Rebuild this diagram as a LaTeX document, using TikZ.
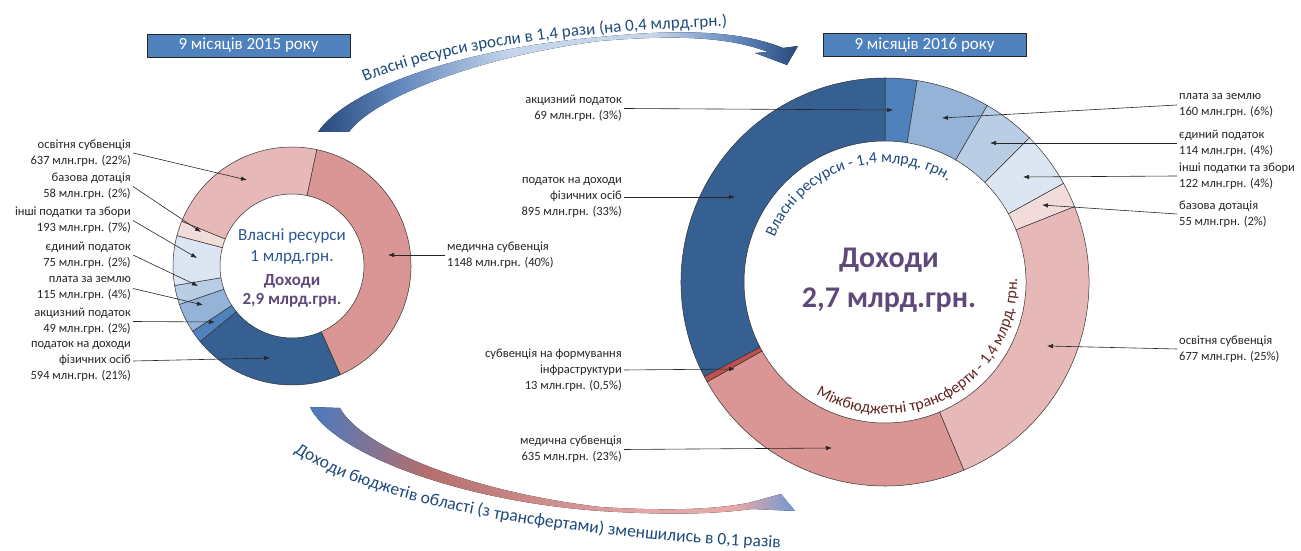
\documentclass[tikz,border=0pt]{standalone}
\usepackage{fontspec}
\setmainfont{Carlito}
\usetikzlibrary{arrows.meta,decorations.text}

\definecolor{hdrblue}{HTML}{4F81BD}
\definecolor{medsub}{HTML}{D99694}
\definecolor{osvsub}{HTML}{E6B9B8}
\definecolor{bazdot}{HTML}{F2DCDB}
\definecolor{inshi}{HTML}{DCE6F2}
\definecolor{yedyn}{HTML}{B9CDE5}
\definecolor{plata}{HTML}{95B3D7}
\definecolor{akcyz}{HTML}{4F81BD}
\definecolor{pdfo}{HTML}{376092}
\definecolor{infra}{HTML}{C0504D}
\definecolor{ownblue}{HTML}{1F497D}
\definecolor{ownblue2}{HTML}{2A5890}
\definecolor{incpurple}{HTML}{5F497A}
\definecolor{trred}{HTML}{632523}
\definecolor{updark}{HTML}{284A7C}
\definecolor{upmid}{HTML}{5E84BA}
\definecolor{uplight}{HTML}{C4D5EC}
\definecolor{lowblue}{HTML}{4A7AC0}
\definecolor{lowmauve}{HTML}{B46E6E}
\definecolor{lowpink}{HTML}{E4A8A7}
\definecolor{lowend}{HTML}{7098D4}
\pgfdeclarehorizontalshading{uparrow}{100bp}{color(0bp)=(updark); color(25bp)=(updark); color(33bp)=(upmid); color(45bp)=(uplight); color(60bp)=(uplight); color(69bp)=(upmid); color(75bp)=(updark); color(100bp)=(updark)}
\pgfdeclarehorizontalshading{lowarrow}{100bp}{color(0bp)=(lowblue); color(25bp)=(lowblue); color(37bp)=(lowmauve); color(60bp)=(lowpink); color(69bp)=(lowpink); color(75bp)=(lowend); color(100bp)=(lowend)}

\begin{document}
\begin{tikzpicture}[x=1pt, y=1pt,
	seg/.style={draw=black!80, line width=0.5pt},
	lblL/.style={anchor=east, align=right, inner sep=2pt, text=black!85, font=\fontsize{12.5}{16}\selectfont},
	lblR/.style={anchor=west, align=left, inner sep=2pt, text=black!85, font=\fontsize{12.5}{16}\selectfont},
	leader/.style={black!85, line width=0.6pt, -{Latex[length=6pt,width=4.5pt]}},
	hdr/.style={draw=black!85, line width=0.8pt, fill=hdrblue, text=white, minimum width=203pt, minimum height=23pt, inner sep=0pt, font=\fontsize{17}{17}\selectfont}]
	\useasboundingbox (0,0) rectangle (1301,551);

	\draw (248.5,505.5) node [hdr] (hd15) {9 місяців 2015 року};
	\draw (924.5,506) node [hdr] (hd16) {9 місяців 2016 року};

	\coordinate (lc) at (292,285);
	\coordinate (rc) at (885,269);

	\foreach \a/\b/\c in {78/-66.05/medsub, -66.05/-140.58/pdfo, -140.58/-146.73/akcyz, -146.73/-161.16/plata, -161.16/-170.57/yedyn, -170.57/-194.79/inshi, -194.79/-202.07/bazdot, -202.07/-282/osvsub}
		\filldraw[seg, fill=\c, shift={(lc)}] (\a:119) arc[start angle=\a, end angle=\b, radius=119] -- (\b:72) arc[start angle=\b, end angle=\a, radius=72] -- cycle;

	\foreach \a/\b/\c in {90/80.93/akcyz, 80.93/59.91/plata, 59.91/44.93/yedyn, 44.93/28.90/inshi, 28.90/21.68/bazdot, 21.68/-67.27/osvsub, -67.27/-150.70/medsub, -150.70/-152.41/infra, -152.41/-270/pdfo}
		\filldraw[seg, fill=\c, shift={(rc)}] (\a:204) arc[start angle=\a, end angle=\b, radius=204] -- (\b:141) arc[start angle=\b, end angle=\a, radius=141] -- cycle;

	\draw (292,304.5) node [text=ownblue2, align=center, font=\fontsize{17}{21}\selectfont] (own15) {Власні ресурси\\1 млрд.грн.};
	\draw (292,260.5) node [text=incpurple, align=center, font=\bfseries\fontsize{17}{19}\selectfont] (inc15) {Доходи\\2,9 млрд.грн.};
	\draw (889,271) node [text=incpurple, align=center, font=\bfseries\fontsize{30}{40}\selectfont] (inc16) {Доходи\\2,7 млрд.грн.};

	\path[decorate, decoration={text along path, text align=center,
		text={|\fontsize{16}{16}\selectfont\color{ownblue}|Власні ресурси - 1,4 млрд. грн.}}]
		([shift={(172:119)}]rc) arc[start angle=172, end angle=44, radius=119];
	\path[decorate, decoration={text along path, text align=center,
		text={|\fontsize{16}{16}\selectfont\color{trred}|Міжбюджетні трансферти - 1,4 млрд. грн.}}]
		([shift={(-145:132)}]rc) arc[start angle=-145, end angle=25, radius=132];

	% labels of 2015
	\draw (133,398) node [lblL] (l-osv) {освітня субвенція\\637 млн.грн. (22\%)};
	\draw (133,364.5) node [lblL] (l-baz) {базова дотація\\58 млн.грн. (2\%)};
	\draw (133,330.5) node [lblL] (l-insh) {інші податки та збори\\193 млн.грн. (7\%)};
	\draw (133,296) node [lblL] (l-yed) {єдиний податок\\75 млн.грн. (2\%)};
	\draw (133,262.5) node [lblL] (l-plata) {плата за землю\\115 млн.грн. (4\%)};
	\draw (133,229.5) node [lblL] (l-akc) {акцизний податок\\49 млн.грн. (2\%)};
	\draw (133,190) node [lblL] (l-pdfo) {податок на доходи\\фізичних осіб\\594 млн.грн. (21\%)};
	\draw (445,296) node [lblR] (l-med) {медична субвенція\\1148 млн.грн. (40\%)};

	\coordinate (t-osv) at (247,371);
	\coordinate (t-baz) at (201,319);
	\coordinate (t-insh) at (197,293);
	\coordinate (t-yed) at (198,265);
	\coordinate (t-plata) at (203,246);
	\coordinate (t-akc) at (215,229);
	\coordinate (t-pdfo) at (270,193);
	\coordinate (t-med) at (388,296);

	\path[leader]
		(l-osv.east) edge (t-osv)
		(l-baz.east) edge (t-baz)
		(l-insh.east) edge (t-insh)
		(l-yed.east) edge (t-yed)
		(l-plata.east) edge (t-plata)
		(l-akc.east) edge (t-akc)
		(l-pdfo.east) edge (t-pdfo)
		(l-med.west) edge (t-med);

	% labels of 2016
	\draw (624,442.5) node [lblL] (r-akc) {акцизний податок\\69 млн.грн. (3\%)};
	\draw (624,354) node [lblL] (r-pdfo) {податок на доходи\\фізичних осіб\\895 млн.грн. (33\%)};
	\draw (624,181) node [lblL] (r-infra) {субвенція на формування\\інфраструктури\\13 млн.грн. (0,5\%)};
	\draw (624,101.5) node [lblL] (r-med) {медична субвенція\\635 млн.грн. (23\%)};
	\draw (1177,446) node [lblR] (r-plata) {плата за землю\\160 млн.грн. (6\%)};
	\draw (1177,408) node [lblR] (r-yed) {єдиний податок\\114 млн.грн. (4\%)};
	\draw (1177,375) node [lblR] (r-insh) {інші податки та збори\\122 млн.грн. (4\%)};
	\draw (1177,337) node [lblR] (r-baz) {базова дотація\\55 млн.грн. (2\%)};
	\draw (1177,202) node [lblR] (r-osv) {освітня субвенція\\677 млн.грн. (25\%)};

	\coordinate (s-akc) at (893,441);
	\coordinate (s-pdfo) at (735,354);
	\coordinate (s-infra) at (735,182);
	\coordinate (s-med) at (832,103);
	\coordinate (s-plata) at (942,433);
	\coordinate (s-yed) at (990,408);
	\coordinate (s-insh) at (1023,374);
	\coordinate (s-baz) at (1042,346);
	\coordinate (s-osv) at (1047,205);

	\path[leader]
		(r-akc.east) edge (s-akc)
		(r-pdfo.east) edge (s-pdfo)
		(r-infra.east) edge (s-infra)
		(r-med.east) edge (s-med)
		(r-plata.west) edge (s-plata)
		(r-yed.west) edge (s-yed)
		(r-insh.west) edge (s-insh)
		(r-baz.west) edge (s-baz)
		(r-osv.west) edge (s-osv);

	% big arrows
	\fill[shading=uparrow]
		(318,419) .. controls (345,459) and (450,501) .. (600,514)
		.. controls (650,519) and (730,525) .. (783,503)
		-- (798,505) -- (787,486) -- (755,498) -- (768,499)
		.. controls (720,518) and (650,514) .. (600,510)
		.. controls (470,493) and (372,451) .. (349,419) -- cycle;
	\path[decorate, decoration={text along path,
		text={|\fontsize{17}{17}\selectfont\color{ownblue}|Власні ресурси зросли в 1,4 рази (на 0,4 млрд.грн.)}}]
		(365,469) .. controls (433,499) and (563,521) .. (758,526);

	\fill[shading=lowarrow]
		(310,144) -- (340,143) .. controls (360,106) and (460,61) .. (600,44)
		.. controls (680,39) and (720,43) .. (748,48)
		-- (781,57) -- (795,40) -- (752,42)
		.. controls (720,38) and (680,35) .. (600,40)
		.. controls (450,51) and (330,101) .. (310,144) -- cycle;
	\path[decorate, decoration={text along path,
		text={|\fontsize{17.5}{17.5}\selectfont\color{ownblue}|Доходи бюджетів області (з трансфертами) зменшились в 0,1 разів}}]
		(294,99) .. controls (360,56) and (500,16) .. (800,2);
\end{tikzpicture}
\end{document}
